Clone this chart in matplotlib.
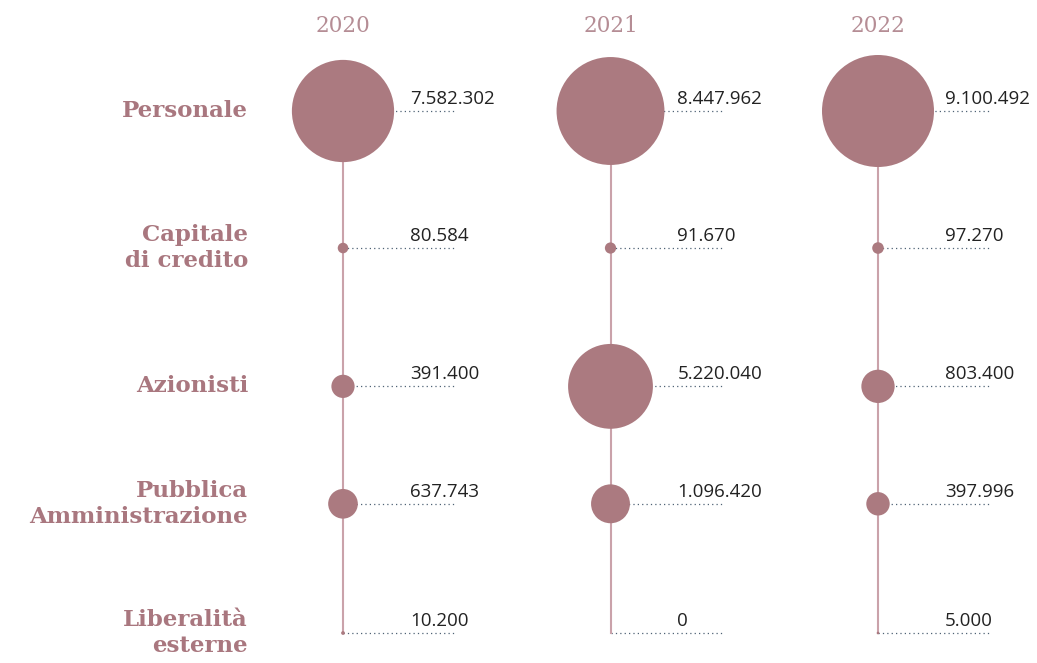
import numpy as np
import matplotlib.pyplot as plt

years = ['2020', '2021', '2022']
categories = ['Personale', 'Capitale\ndi credito', 'Azionisti',
              'Pubblica\nAmministrazione', 'Liberalità\nesterne']
values = [
    [7582302, 8447962, 9100492],
    [80584, 91670, 97270],
    [391400, 5220040, 803400],
    [637743, 1096420, 397996],
    [10200, 0, 5000],
]
value_labels = [
    ['7.582.302', '8.447.962', '9.100.492'],
    ['80.584', '91.670', '97.270'],
    ['391.400', '5.220.040', '803.400'],
    ['637.743', '1.096.420', '397.996'],
    ['10.200', '0', '5.000'],
]

# layout: vertical offsets of the rows (rows are not equally spaced)
row_y = [0, 1.05, 2.11, 3.01, 4.0]
px_x = 267.5   # pixels per column unit
px_y = 130.5   # pixels per row unit

bubble = '#ab7a80'
stem = '#caa2aa'
label_col = '#a9777f'
year_col = '#b58d95'

fig = plt.figure(figsize=(10.37, 6.63), dpi=100)
ax = fig.add_axes([0, 0, 1, 1])
ax.set_xlim(-343 / px_x, (1037 - 343) / px_x)
ax.set_ylim((663 - 111) / px_y, -111 / px_y)
ax.axis('off')

vals = np.array(values, dtype=float)
max_r = 56  # radius in px of the largest bubble
radius = max_r * np.sqrt(vals / vals.max())
sizes = (2 * radius * 0.72) ** 2

for j, year in enumerate(years):
    ax.plot([j, j], [row_y[0], row_y[-1]], color=stem, lw=1.5, zorder=1)
    ax.text(j, -0.65, year, ha='center', va='center', fontsize=15.5,
            family='DejaVu Serif', color=year_col)
    for i in range(len(categories)):
        y = row_y[i]
        ax.plot([j, j + 112 / px_x], [y, y], color='#4f6275', lw=0.9,
                ls=(0, (1, 2.5)), zorder=0)
        if vals[i, j] > 0:
            ax.scatter(j, y, s=sizes[i, j], color=bubble, edgecolors='none', zorder=2)
        ax.text(j + 67 / px_x, y - 3 / px_y, value_labels[i][j], ha='left', va='bottom',
                fontsize=13.5, family='Open Sans', color='#222222', zorder=3)

for i, cat in enumerate(categories):
    ax.text(-95 / px_x, row_y[i], cat, ha='right', va='center', fontsize=16.5,
            family='DejaVu Serif', fontweight='bold', color=label_col,
            linespacing=1.25)

fig.savefig('out.png', dpi=100)
